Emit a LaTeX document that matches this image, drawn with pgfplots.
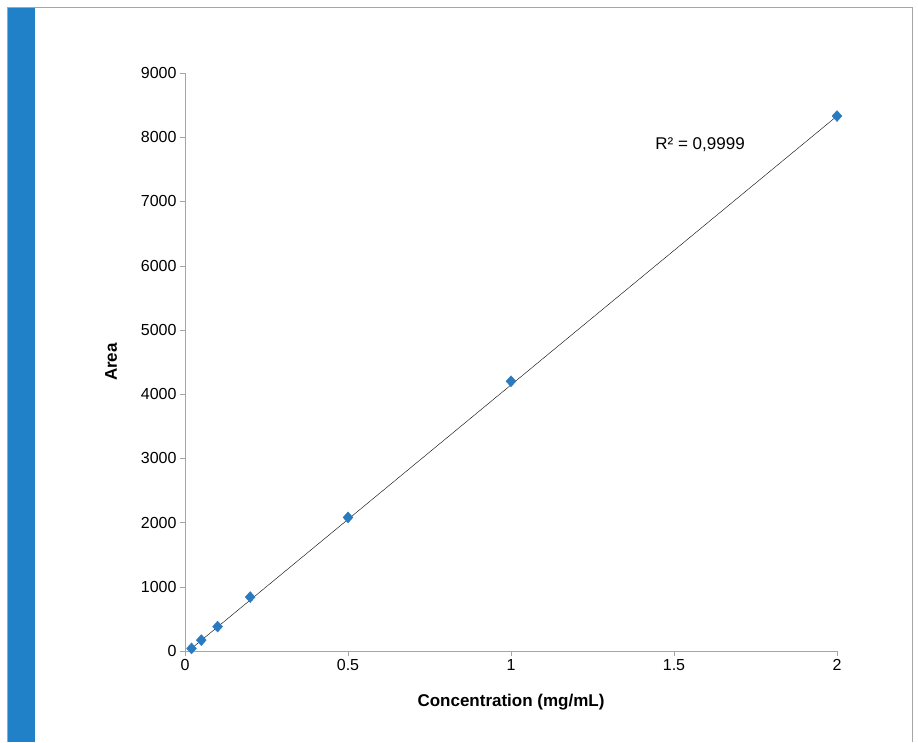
\documentclass[border=0pt]{standalone}
\usepackage{pgfplots}
\pgfplotsset{compat=1.18}
\usepackage{fontspec}
\setmainfont{Liberation Sans}
\definecolor{mblue}{HTML}{2A7AC0}
\definecolor{barblue}{HTML}{2080C8}
\begin{document}
\begin{tikzpicture}[x=1pt,y=1pt]
\useasboundingbox (-185,-91) rectangle (733,651);
\fill[white] (-185,-91) rectangle (733,651);
\draw[gray!70,line width=1pt] (-177,-91) -- (-177,643) -- (727,643) -- (727,-91);
\fill[barblue] (-177,-91) rectangle (-150,643);
\begin{axis}[at={(0,0)},anchor=origin,scale only axis,width=652pt,height=578pt,
 xmin=0,xmax=2,ymin=0,ymax=9000,
 axis x line*=bottom, axis y line*=left,
 axis line style={gray!70,-},
 xtick={0,0.5,1,1.5,2}, ytick={0,1000,...,9000},
 tick style={gray!70}, tick align=outside, major tick length=5pt,
 xticklabel style={/pgf/number format/.cd,use period,fixed},
 scaled y ticks=false,
 yticklabel style={/pgf/number format/.cd,fixed,1000 sep={}},
 /pgf/number format/assume math mode=true,
 ticklabel style={font=\fontsize{16}{18}\selectfont},
 xlabel={\textbf{Concentration (mg/mL)}}, ylabel={\textbf{Area}},
 label style={font=\fontsize{17}{19}\selectfont},
 xlabel style={yshift=-16pt}, ylabel style={yshift=17pt},
 clip=false]
\addplot[black,thin] coordinates {(0.02,40) (2,8330)};
\addplot[only marks,mark=diamond*,mark size=5.5pt,mblue,mark options={fill=mblue,draw=mblue,xscale=1.2}] coordinates {
(0.02,40) (0.05,170) (0.1,380) (0.2,840) (0.5,2080) (1,4200) (2,8330)};
\node[font=\fontsize{17}{19}\selectfont] at (axis cs:1.58,7880) {R² = 0,9999};
\end{axis}
\end{tikzpicture}
\end{document}
